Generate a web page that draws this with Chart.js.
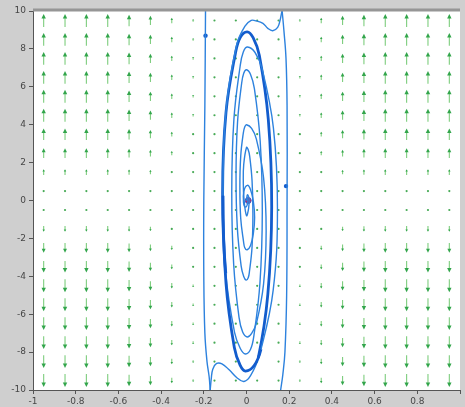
<!DOCTYPE html>
<html>
<head>
<meta charset="utf-8">
<script src="https://cdn.jsdelivr.net/npm/chart.js@4.4.1/dist/chart.umd.min.js"></script>
<style>
  html, body { margin: 0; padding: 0; background: #cfcfcf; }
  canvas { display: block; }
</style>
</head>
<body>
<canvas id="phase" width="465" height="407"></canvas>
<script>
// Axis tick labels
const xTickLabels = ['-1', '-0.8', '-0.6', '-0.4', '-0.2', '0', '0.2', '0.4', '0.6', '0.8', ''];
const yTickLabels = ['-10', '-8', '-6', '-4', '-2', '0', '2', '4', '6', '8', '10'];

// Direction field grid
const fieldX = [-0.95, -0.85, -0.75, -0.65, -0.55, -0.45, -0.35, -0.25, -0.15, -0.05,
                 0.05, 0.15, 0.25, 0.35, 0.45, 0.55, 0.65, 0.75, 0.85, 0.95];
const fieldY = [-9.5, -8.5, -7.5, -6.5, -5.5, -4.5, -3.5, -2.5, -1.5, -0.5,
                 0.5, 1.5, 2.5, 3.5, 4.5, 5.5, 6.5, 7.5, 8.5, 9.5];
// relative arrow strength per column and per row (sign = direction along y)
const fieldColGain = [1, 1, 1, 1, 0.9, 0.72, 0.42, 0.2, 0.08, 0.03,
                      0.03, 0.08, 0.2, 0.42, 0.72, 0.9, 1, 1, 1, 1];
const fieldRowGain = [-1, -1, -1, -1, -1, -1, -0.9, -0.75, -0.45, -0.12,
                      0.12, 0.45, 0.75, 0.9, 1, 1, 1, 1, 1, 1];
const fieldMaxDy = 0.68;

// Trajectory entering at the top and spiralling in to the origin
const trajA = [
  [0.166, 10], [0.157, 9.5], [0.146, 9.14], [0.123, 8.96], [0.1, 9.08], [0.077, 9.35], [0.045, 9.48], [0.022, 9.5],
  [-0.008, 9.19], [-0.045, 8.26], [-0.095, 4.88], [-0.11, 0.25], [-0.096, -4.38], [-0.057, -7.76], [-0.03, -8.69], [-0.005, -9.0],
  [0.036, -8.71], [0.068, -7.85], [0.125, -4.73], [0.145, -0.45], [0.126, 3.83], [0.073, 6.95], [0.04, 7.81], [0.005, 8.1],
  [-0.015, 7.84], [-0.03, 7.07], [-0.059, 4.28], [-0.069, 0.45], [-0.06, -3.38], [-0.035, -6.17], [-0.018, -6.94], [0.003, -7.2],
  [0.024, -7.01], [0.047, -6.45], [0.08, -4.4], [0.092, -1.6], [0.08, 1.2], [0.046, 3.25], [0.024, 3.81], [0.0, 4.0],
  [-0.008, 3.89], [-0.015, 3.56], [-0.027, 2.35], [-0.031, 0.7], [-0.027, -0.95], [-0.014, -2.16], [-0.008, -2.49], [0.003, -2.6],
  [0.019, -2.37], [0.032, -1.75], [0.038, -0.9], [0.032, -0.05], [0.019, 0.57], [0.004, 0.8],
  [-0.012, 0.5], [-0.014, -0.1], [-0.004, -0.35], [0.006, -0.1], [0.004, 0.1], [0.0, 0.0]
];

// Trajectory entering at the bottom and spiralling in to the origin
const trajB = [
  [-0.17, -10], [-0.165, -9.4], [-0.158, -8.9], [-0.14, -8.6], [-0.115, -8.62], [-0.08, -8.95], [-0.045, -9.35], [-0.012, -9.55],
  [0.019, -9.24], [0.055, -8.31], [0.1, -4.94], [0.118, -0.325], [0.102, 4.29], [0.06, 7.66], [0.031, 8.59], [0.003, 8.9],
  [-0.029, 8.61], [-0.052, 7.76], [-0.096, 4.65], [-0.112, 0.4], [-0.097, -3.85], [-0.056, -6.96], [-0.029, -7.81], [-0.005, -8.1],
  [0.019, -7.85], [0.035, -7.1], [0.063, -4.35], [0.074, -0.6], [0.064, 3.15], [0.037, 5.9], [0.019, 6.65], [0.0, 6.9],
  [-0.013, 6.71], [-0.023, 6.16], [-0.042, 4.13], [-0.049, 1.35], [-0.043, -1.43], [-0.025, -3.46], [-0.013, -4.01], [-0.002, -4.2],
  [0.008, -4.08], [0.014, -3.73], [0.026, -2.45], [0.03, -0.7], [0.026, 1.05], [0.015, 2.33], [0.008, 2.68], [0.0, 2.8],
  [-0.013, 1.9], [-0.015, 1.0], [-0.012, 0.1], [0.0, -0.8],
  [0.01, -0.4], [0.012, 0.1], [0.004, 0.3], [0.0, 0.0]
];

// Outer trajectories passing by on either side
const outerLeft = [
  [-0.192, 10], [-0.195, 5], [-0.2, 0], [-0.2, -4], [-0.195, -7], [-0.185, -8.5], [-0.175, -9.3], [-0.17, -10]
];
const outerRight = [
  [0.16, -10], [0.17, -9.2], [0.18, -8], [0.188, -5], [0.19, 0], [0.19, 5], [0.185, 7.5], [0.175, 9], [0.167, 10]
];

// Start markers and the equilibrium
const startPoints = [[-0.192, 8.7], [0.185, 0.76]];
const equilibrium = [[0.008, 0.0]];

// index ranges of the heavier ring drawn by each spiral
const heavyA = [11, 17];
const heavyB = [9, 20];

const toXY = arr => arr.map(p => ({ x: p[0], y: p[1] }));

const paperPlugin = {
  id: 'paper',
  beforeDraw(chart) {
    const { ctx, chartArea: a } = chart;
    ctx.save();
    ctx.fillStyle = '#ffffff';
    ctx.fillRect(a.left, a.top, a.right - a.left, a.bottom - a.top);
    ctx.restore();
  },
  afterDraw(chart) {
    const { ctx, chartArea: a } = chart;
    ctx.save();
    ctx.strokeStyle = 'rgb(150,150,150)';
    ctx.lineWidth = 3;
    ctx.beginPath();
    ctx.moveTo(a.left, a.top - 1);
    ctx.lineTo(a.right, a.top - 1);
    ctx.stroke();
    ctx.restore();
  }
};

const quiverPlugin = {
  id: 'quiver',
  beforeDatasetsDraw(chart) {
    const { ctx, chartArea: a, scales: { x, y } } = chart;
    ctx.save();
    ctx.beginPath();
    ctx.rect(a.left, a.top, a.right - a.left, a.bottom - a.top);
    ctx.clip();
    fieldX.forEach((fx, i) => {
      fieldY.forEach((fy, j) => {
        const v = fieldColGain[i] * fieldRowGain[j] * fieldMaxDy;
        const px = x.getPixelForValue(fx);
        const y0 = y.getPixelForValue(fy - v / 2);
        const y1 = y.getPixelForValue(fy + v / 2);
        const len = Math.abs(y1 - y0);
        const dir = y1 < y0 ? -1 : 1;
        if (len < 2.5) {
          ctx.fillStyle = 'rgb(70,170,85)';
          ctx.beginPath();
          ctx.arc(px, (y0 + y1) / 2, 1.1, 0, Math.PI * 2);
          ctx.fill();
          return;
        }
        const h = Math.min(4.5, len * 0.4);
        const w = Math.max(1.2, Math.min(2.2, h * 0.5));
        ctx.strokeStyle = 'rgb(125,205,125)';
        ctx.lineWidth = 1.1;
        ctx.beginPath();
        ctx.moveTo(px, y0);
        ctx.lineTo(px, y1 - dir * h * 0.5);
        ctx.stroke();
        ctx.fillStyle = 'rgb(50,165,75)';
        ctx.beginPath();
        ctx.moveTo(px, y1);
        ctx.lineTo(px - w, y1 - dir * h);
        ctx.lineTo(px + w, y1 - dir * h);
        ctx.closePath();
        ctx.fill();
      });
    });
    ctx.restore();
  }
};

const thinBlue = 'rgb(45,130,222)';
const darkBlue = 'rgb(18,92,205)';

const lineDefaults = {
  showLine: true,
  pointRadius: 0,
  tension: 0.4,
  fill: false,
  borderColor: thinBlue,
  borderWidth: 1.4
};

const heavySegments = range => ({
  borderWidth: c => (c.p0DataIndex >= range[0] && c.p0DataIndex < range[1] ? 2.8 : 1.4),
  borderColor: c => (c.p0DataIndex >= range[0] && c.p0DataIndex < range[1] ? darkBlue : thinBlue)
});

new Chart(document.getElementById('phase'), {
  type: 'scatter',
  data: {
    datasets: [
      Object.assign({ label: 'outer left', data: toXY(outerLeft) }, lineDefaults),
      Object.assign({ label: 'outer right', data: toXY(outerRight) }, lineDefaults),
      Object.assign({ label: 'trajectory A', data: toXY(trajA) }, lineDefaults, { segment: heavySegments(heavyA) }),
      Object.assign({ label: 'trajectory B', data: toXY(trajB) }, lineDefaults, { segment: heavySegments(heavyB) }),
      {
        label: 'start', data: toXY(startPoints), showLine: false,
        pointRadius: 2.2, pointBackgroundColor: darkBlue, pointBorderWidth: 0
      },
      {
        label: 'equilibrium', data: toXY(equilibrium), showLine: false,
        pointRadius: 3, pointBackgroundColor: 'rgb(200,40,90)',
        pointBorderColor: 'rgb(60,90,200)', pointBorderWidth: 1
      }
    ]
  },
  options: {
    responsive: false,
    animation: false,
    devicePixelRatio: 1,
    layout: { padding: { top: 11, right: 0, bottom: 0, left: 0 } },
    plugins: { legend: { display: false }, tooltip: { enabled: false } },
    scales: {
      x: {
        type: 'linear', min: -1, max: 1,
        afterFit: s => { s.height = 17; },
        border: { display: true, color: 'rgb(85,85,85)', width: 1 },
        grid: { drawOnChartArea: false, drawTicks: true, tickLength: 4, color: 'rgb(85,85,85)' },
        ticks: {
          stepSize: 0.2, padding: 2, maxRotation: 0, autoSkip: false,
          color: 'rgb(70,70,70)', font: { family: 'DejaVu Sans', size: 9 },
          callback: (v, i) => xTickLabels[i]
        }
      },
      y: {
        type: 'linear', min: -10, max: 10,
        afterFit: s => { s.width = 33; },
        border: { display: true, color: 'rgb(85,85,85)', width: 1 },
        grid: { drawOnChartArea: false, drawTicks: true, tickLength: 4, color: 'rgb(85,85,85)' },
        ticks: {
          stepSize: 2, padding: 3, autoSkip: false,
          color: 'rgb(70,70,70)', font: { family: 'DejaVu Sans', size: 9 },
          callback: (v, i) => yTickLabels[i]
        }
      }
    }
  },
  plugins: [paperPlugin, quiverPlugin]
});
</script>
</body>
</html>
